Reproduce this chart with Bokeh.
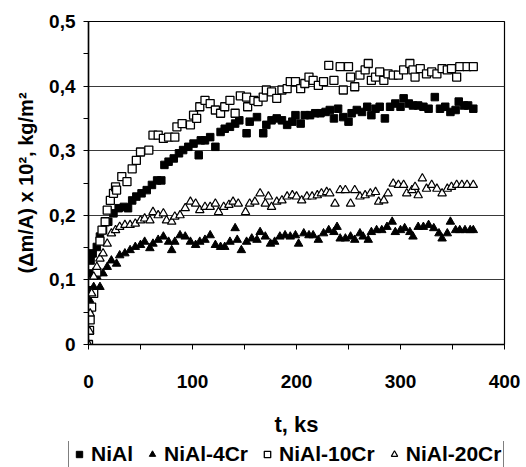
from bokeh.plotting import figure
from bokeh.layouts import column
from bokeh.models import Range1d, FixedTicker, CustomJSTickFormatter, Legend, LegendItem
from bokeh.embed import file_html
from bokeh.resources import INLINE

# ---- data (t in ks, mass gain (dm/A) x 10^2 in kg/m^2) ----
t_nial = [0.3, 1, 2, 4, 8, 11, 14, 19, 24, 29, 34, 38, 42, 46, 51, 56, 61, 66, 70, 73, 77, 82, 87, 91, 96,
          101, 106, 108, 112, 117, 122, 127, 131, 136, 141, 145, 152, 155, 162, 168, 171, 176, 181, 186,
          191, 196, 199, 204, 208, 213, 218, 223, 228, 232, 236, 240, 245, 250, 253, 258, 263, 268, 272,
          276, 280, 285, 290, 295, 300, 303, 308, 312, 317, 322, 327, 333, 338, 343, 348, 353, 356, 361,
          365, 370]
v_nial = [0.084, 0.11, 0.13, 0.141, 0.151, 0.167, 0.177, 0.19, 0.203, 0.211, 0.213, 0.211, 0.223, 0.229,
          0.234, 0.239, 0.247, 0.254, 0.254, 0.278, 0.283, 0.288, 0.296, 0.301, 0.306, 0.311, 0.293, 0.316,
          0.316, 0.321, 0.306, 0.329, 0.334, 0.337, 0.342, 0.347, 0.327, 0.345, 0.352, 0.327, 0.34, 0.347,
          0.35, 0.347, 0.34, 0.345, 0.355, 0.342, 0.355, 0.355, 0.358, 0.358, 0.36, 0.363, 0.35, 0.365,
          0.352, 0.345, 0.358, 0.363, 0.36, 0.368, 0.355, 0.365, 0.368, 0.35, 0.368, 0.373, 0.368, 0.381,
          0.373, 0.37, 0.37, 0.368, 0.365, 0.383, 0.365, 0.368, 0.36, 0.363, 0.376, 0.37, 0.37, 0.365]

t_4cr = [0.3, 1, 2, 5, 8, 11, 14, 18, 22, 27, 30, 35, 40, 45, 50, 54, 59, 62, 67, 72, 77, 80, 83, 88, 93,
         98, 103, 107, 112, 117, 122, 127, 131, 136, 141, 143, 147, 152, 157, 162, 165, 170, 175, 179, 184,
         189, 194, 199, 202, 207, 212, 216, 221, 226, 231, 236, 239, 242, 247, 252, 256, 261, 264, 269, 272,
         277, 282, 287, 292, 295, 300, 304, 309, 312, 317, 322, 327, 332, 337, 340, 345, 348, 353, 357, 362,
         367, 370]
v_4cr = [0.053, 0.069, 0.079, 0.089, 0.105, 0.089, 0.11, 0.12, 0.13, 0.125, 0.138, 0.141, 0.146, 0.151,
         0.154, 0.159, 0.149, 0.156, 0.162, 0.167, 0.159, 0.146, 0.159, 0.169, 0.167, 0.159, 0.154, 0.159,
         0.162, 0.169, 0.154, 0.151, 0.151, 0.159, 0.18, 0.162, 0.146, 0.159, 0.164, 0.162, 0.174, 0.167,
         0.156, 0.159, 0.167, 0.169, 0.167, 0.169, 0.156, 0.172, 0.169, 0.169, 0.162, 0.172, 0.177, 0.174,
         0.182, 0.164, 0.164, 0.167, 0.162, 0.172, 0.167, 0.162, 0.174, 0.177, 0.177, 0.182, 0.19, 0.174,
         0.177, 0.18, 0.174, 0.167, 0.182, 0.182, 0.185, 0.18, 0.172, 0.164, 0.172, 0.19, 0.177, 0.177,
         0.177, 0.177, 0.177]

t_10cr = [0, 1, 1.6, 3, 5, 8, 11, 13, 16, 18, 21, 24, 26, 27, 32, 37, 42, 46, 50, 58, 62, 67, 72, 77, 83,
          85, 90, 98, 101, 104, 107, 112, 117, 122, 127, 131, 136, 141, 146, 152, 153, 159, 163, 168, 171,
          176, 181, 186, 191, 194, 199, 204, 208, 212, 216, 221, 226, 231, 236, 242, 245, 250, 252, 256,
          261, 266, 269, 272, 276, 280, 284, 288, 293, 298, 303, 309, 312, 314, 319, 325, 330, 335, 340,
          345, 349, 354, 357, 364, 370]
v_10cr = [0.0, 0.022, 0.038, 0.058, 0.079, 0.112, 0.16, 0.177, 0.19, 0.208, 0.223, 0.234, 0.244, 0.239,
          0.26, 0.252, 0.272, 0.285, 0.298, 0.301, 0.324, 0.324, 0.319, 0.321, 0.321, 0.337, 0.342, 0.34,
          0.355, 0.35, 0.368, 0.378, 0.373, 0.363, 0.358, 0.368, 0.378, 0.358, 0.385, 0.383, 0.368, 0.378,
          0.376, 0.383, 0.394, 0.391, 0.381, 0.394, 0.396, 0.407, 0.407, 0.396, 0.404, 0.414, 0.409, 0.401,
          0.407, 0.432, 0.409, 0.43, 0.394, 0.43, 0.414, 0.399, 0.417, 0.425, 0.435, 0.409, 0.414, 0.422,
          0.409, 0.419, 0.417, 0.417, 0.425, 0.435, 0.425, 0.414, 0.427, 0.419, 0.422, 0.419, 0.427, 0.425,
          0.427, 0.414, 0.43, 0.43, 0.43]

t_20cr = [0, 1, 1.6, 3, 5, 8, 11, 14, 18, 22, 26, 30, 35, 40, 45, 50, 54, 59, 62, 67, 72, 75, 80, 83, 88,
          93, 98, 103, 107, 112, 117, 122, 125, 130, 135, 139, 144, 151, 155, 160, 165, 170, 173, 176, 181,
          186, 191, 196, 200, 205, 210, 215, 220, 224, 229, 232, 237, 242, 247, 252, 256, 261, 266, 271,
          276, 279, 284, 288, 293, 298, 303, 306, 311, 314, 317, 321, 325, 330, 335, 340, 345, 349, 354,
          359, 364, 370]
v_20cr = [0.0, 0.02, 0.048, 0.079, 0.105, 0.12, 0.133, 0.141, 0.156, 0.172, 0.177, 0.182, 0.185, 0.185,
          0.187, 0.192, 0.195, 0.192, 0.205, 0.2, 0.203, 0.192, 0.19, 0.198, 0.2, 0.211, 0.221, 0.218, 0.208,
          0.213, 0.213, 0.218, 0.205, 0.213, 0.216, 0.221, 0.218, 0.205, 0.218, 0.221, 0.234, 0.218, 0.229,
          0.213, 0.221, 0.223, 0.229, 0.231, 0.229, 0.223, 0.229, 0.229, 0.231, 0.234, 0.236, 0.234, 0.218,
          0.239, 0.239, 0.218, 0.239, 0.229, 0.231, 0.234, 0.236, 0.221, 0.223, 0.234, 0.249, 0.247, 0.247,
          0.234, 0.239, 0.244, 0.231, 0.257, 0.241, 0.247, 0.241, 0.234, 0.241, 0.244, 0.247, 0.247, 0.247,
          0.247]

series_names = ["NiAl", "NiAl-4Cr", "NiAl-10Cr", "NiAl-20Cr"]
series_t = [t_nial, t_4cr, t_10cr, t_20cr]
series_v = [v_nial, v_4cr, v_10cr, v_20cr]
x_ticks = [0, 50, 100, 150, 200, 250, 300, 350, 400]
y_ticks = [0, 0.05, 0.1, 0.15, 0.2, 0.25, 0.3, 0.35, 0.4, 0.45, 0.5]
y_grid = [0.1, 0.2, 0.3, 0.4]
x_title = "t, ks"
y_title = "(\u0394m/A) x 10\u00b2, kg/m\u00b2"

FONT = "Liberation Sans"

# marker styles per series
styles = [
    dict(marker="square", size=7.5, fill_color="black", line_color="black", line_width=1),
    dict(marker="triangle", size=8.5, fill_color="black", line_color="black", line_width=1),
    dict(marker="square", size=8, fill_color="white", line_color="black", line_width=1.3),
    dict(marker="triangle", size=8.5, fill_color="white", line_color="black", line_width=1.2),
]

p = figure(width=526, height=441, output_backend="svg", toolbar_location=None,
           x_range=Range1d(0, 400), y_range=Range1d(0, 0.5),
           min_border_left=88, min_border_right=22, min_border_top=21, min_border_bottom=97)
p.background_fill_color = "white"
p.border_fill_color = "white"
p.outline_line_color = "black"
p.outline_line_width = 1.2

for ts, vs, st in zip(series_t, series_v, styles):
    p.scatter(ts, vs, **st)

for ax in (p.xaxis[0], p.yaxis[0]):
    ax.axis_line_color = "black"
    ax.axis_line_width = 1.5
    ax.major_tick_line_color = "black"
    ax.major_tick_line_width = 1
    ax.major_tick_in = 0
    ax.major_tick_out = 5
    ax.minor_tick_line_color = None
    ax.major_label_text_font = FONT
    ax.major_label_text_font_style = "bold"
    ax.major_label_text_color = "black"
    ax.axis_label_text_font = FONT
    ax.axis_label_text_font_style = "bold"
    ax.axis_label_text_color = "black"

p.xaxis.ticker = FixedTicker(ticks=x_ticks)
p.xaxis.formatter = CustomJSTickFormatter(code="""
    const r = Math.round(tick);
    return (r % 100 === 0) ? r.toString() : "";
""")
p.xaxis.major_label_text_font_size = "19px"
p.xaxis.major_label_standoff = 25
p.xaxis.axis_label = x_title
p.xaxis.axis_label_text_font_size = "22px"
p.xaxis.axis_label_standoff = 21

p.yaxis.ticker = FixedTicker(ticks=y_ticks)
p.yaxis.formatter = CustomJSTickFormatter(code="""
    const r = Math.round(tick * 100);
    if (r % 10 !== 0) return "";
    if (r === 0) return "0";
    return tick.toFixed(1).replace(".", ",");
""")
p.yaxis.major_label_text_font_size = "19px"
p.yaxis.major_label_standoff = 8
p.yaxis.axis_label = y_title
p.yaxis.axis_label_text_font_size = "20px"
p.yaxis.axis_label_standoff = 9

p.xgrid.visible = False
p.ygrid.ticker = FixedTicker(ticks=y_grid)
p.ygrid.grid_line_color = "#3a3a3a"
p.ygrid.grid_line_width = 1

# ---- legend strip under the chart ----
lg = figure(width=526, height=26, output_backend="svg", toolbar_location=None,
            x_range=Range1d(0, 1), y_range=Range1d(0, 1), x_axis_type=None, y_axis_type=None,
            min_border_left=0, min_border_right=0, min_border_top=0, min_border_bottom=0)
lg.frame_align = False
lg.outline_line_color = None
lg.xgrid.visible = False
lg.ygrid.visible = False
items = []
for name, ts, vs, st in zip(series_names, series_t, series_v, styles):
    r = lg.scatter(ts[:1], vs[:1], **st)
    r.visible = False
    items.append(LegendItem(label=name, renderers=[r]))

legend = Legend(items=items, orientation="horizontal", location=(68, -2))
legend.label_text_font = FONT
legend.label_text_font_style = "bold"
legend.label_text_font_size = "21px"
legend.label_text_color = "black"
legend.glyph_width = 16
legend.glyph_height = 16
legend.label_standoff = 4
legend.spacing = 11
legend.padding = 2
legend.margin = 0
legend.border_line_color = "black"
legend.border_line_width = 1
legend.background_fill_color = "white"
legend.background_fill_alpha = 1
legend.inactive_fill_alpha = 0
lg.add_layout(legend, "center")

page = column(p, lg, spacing=0)
open("out.html", "w").write(file_html(page, INLINE))
